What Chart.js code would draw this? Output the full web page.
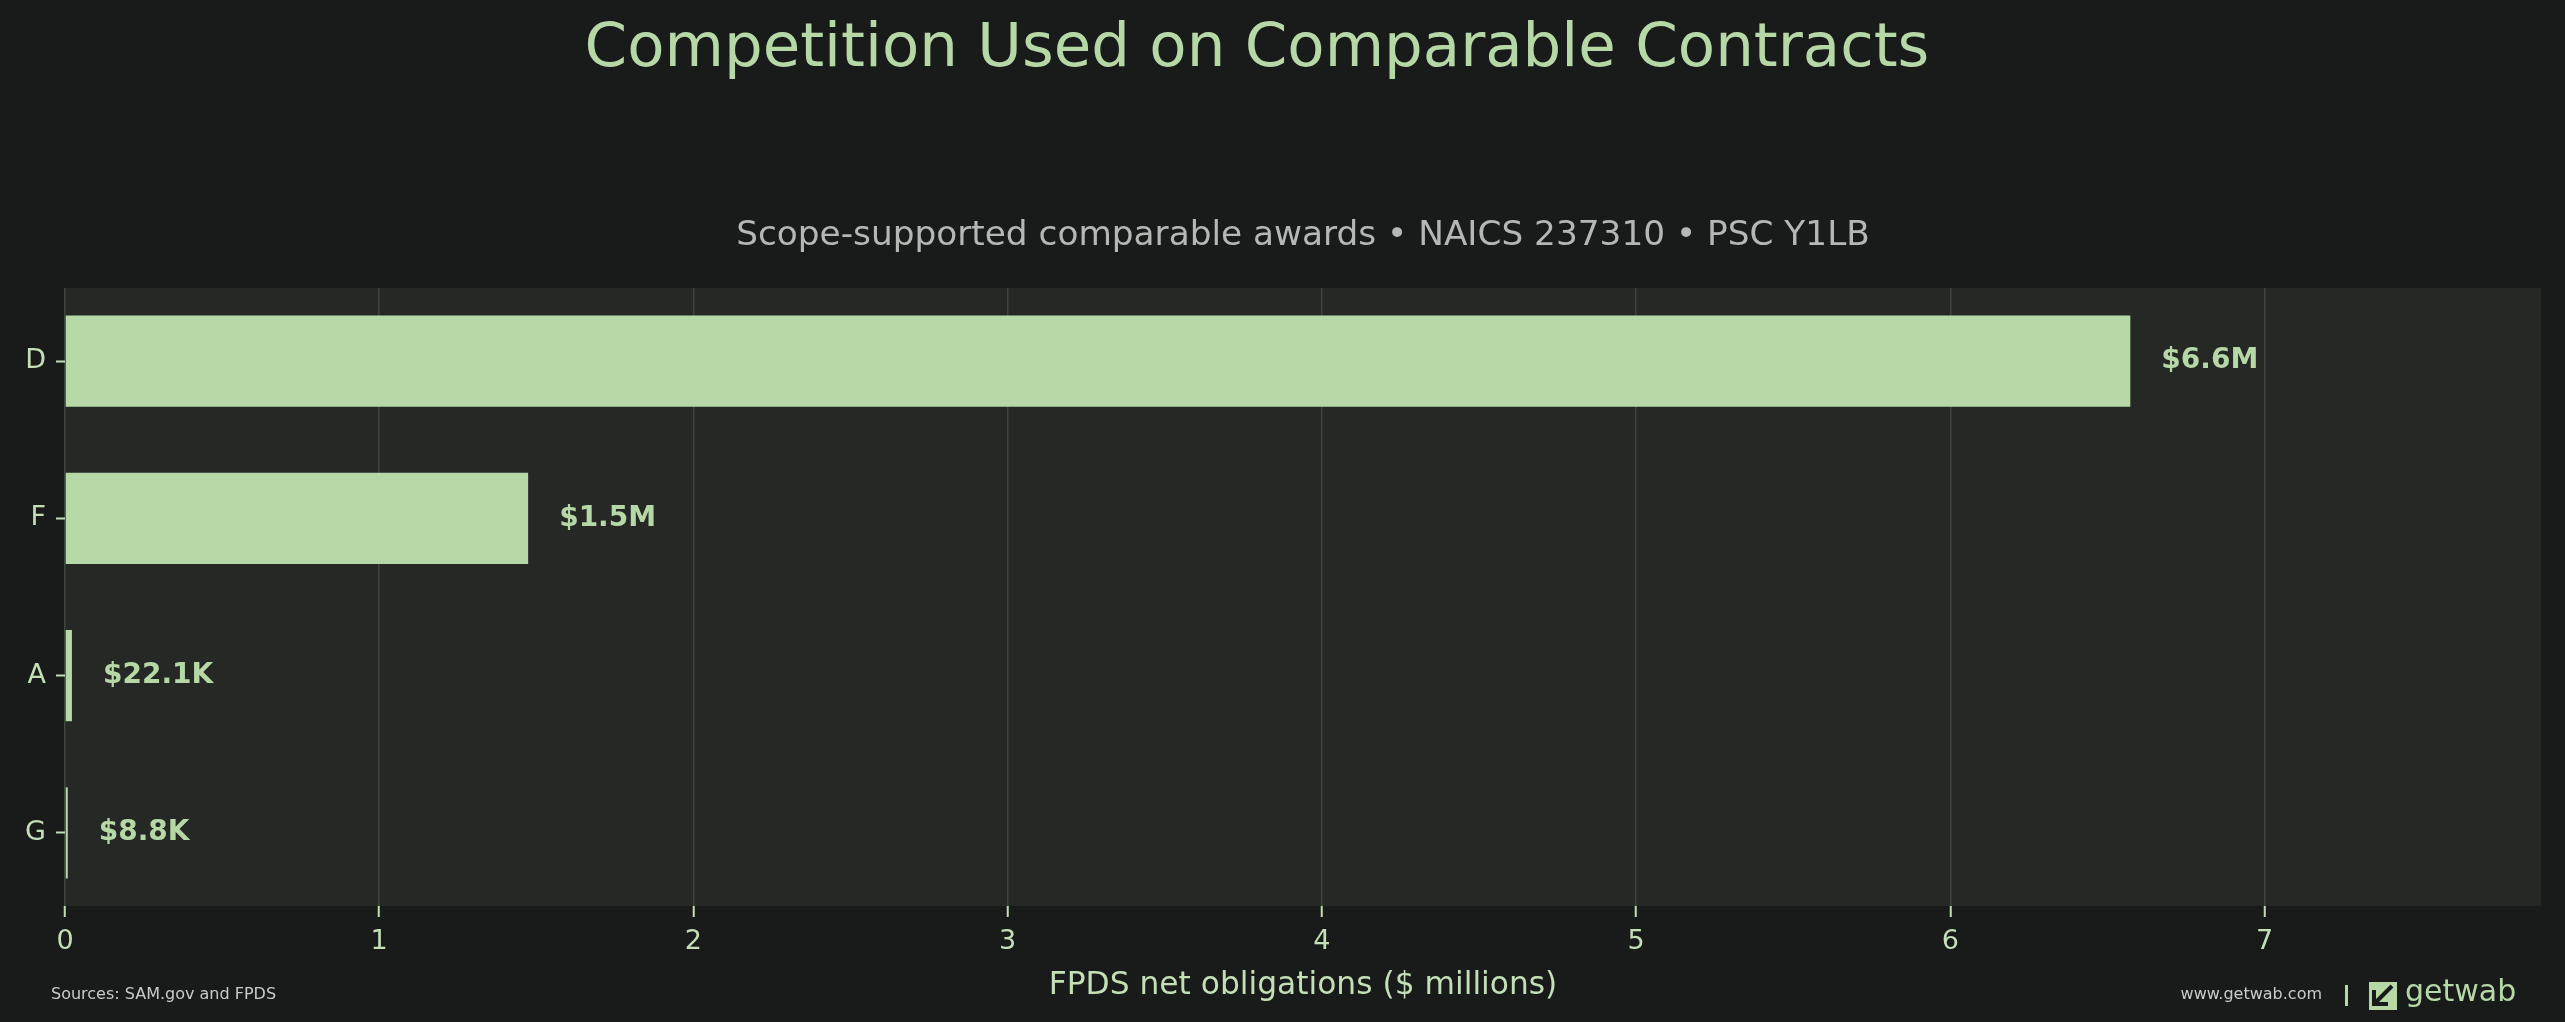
<!DOCTYPE html>
<html>
<head>
<meta charset="utf-8">
<script src="https://cdn.jsdelivr.net/npm/chart.js@4.4.1/dist/chart.umd.min.js"></script>
<style>
  html, body { margin: 0; padding: 0; background: #191b1a; }
  #wrap { width: 2565px; height: 1022px; }
</style>
</head>
<body>
<div id="wrap"><canvas id="chart" width="2565" height="1022"></canvas></div>
<script>
// Data
const categories = ['D', 'F', 'A', 'G'];
const obligations = [6.573, 1.474, 0.0221, 0.0088]; // $ millions
const valueLabels = ['$6.6M', '$1.5M', '$22.1K', '$8.8K'];
const xTicks = [0, 1, 2, 3, 4, 5, 6, 7];
const xMax = 7.88;

const GREEN = '#b5d8a6';
const TICK_TEXT = '#c3dfb6';
const FONT = '"DejaVu Sans", sans-serif';

const decorations = {
  id: 'decorations',
  beforeDraw(chart) {
    const { ctx, chartArea: a } = chart;
    ctx.save();
    ctx.fillStyle = '#191b1a';
    ctx.fillRect(0, 0, chart.width, chart.height);
    ctx.fillStyle = '#262826';
    ctx.fillRect(a.left, a.top, a.right - a.left, a.bottom - a.top);
    ctx.restore();
  },
  afterDraw(chart) {
    const { ctx, chartArea: a } = chart;
    const mid = (a.left + a.right) / 2;
    ctx.save();
    ctx.textBaseline = 'middle';

    // titles
    ctx.textAlign = 'center';
    ctx.fillStyle = GREEN;
    ctx.font = '61px ' + FONT;
    ctx.fillText('Competition Used on Comparable Contracts', 1257, 50);
    ctx.fillStyle = '#b4b8b4';
    ctx.font = '34.3px ' + FONT;
    ctx.fillText('Scope-supported comparable awards \u2022 NAICS 237310 \u2022 PSC Y1LB', mid, 236);

    // axis title
    ctx.fillStyle = TICK_TEXT;
    ctx.font = '31.3px ' + FONT;
    ctx.fillText('FPDS net obligations ($ millions)', mid, 986);

    // value labels
    const meta = chart.getDatasetMeta(0);
    ctx.textAlign = 'left';
    ctx.fillStyle = GREEN;
    ctx.font = 'bold 28px ' + FONT;
    meta.data.forEach((bar, i) => {
      ctx.fillText(valueLabels[i], bar.x + 31, bar.y);
    });

    // footer
    ctx.fillStyle = '#c8ccc8';
    ctx.font = '16px ' + FONT;
    ctx.fillText('Sources: SAM.gov and FPDS', 51, 995);
    ctx.textAlign = 'right';
    ctx.fillText('www.getwab.com', 2322, 995);
    ctx.fillStyle = GREEN;
    ctx.fillRect(2345, 985, 3, 21);
    // logo mark
    ctx.fillRect(2369, 982, 28, 28);
    ctx.strokeStyle = '#191b1a';
    ctx.lineWidth = 4;
    ctx.beginPath();
    ctx.moveTo(2374, 1004);
    ctx.lineTo(2392, 986);
    ctx.moveTo(2374, 990);
    ctx.lineTo(2374, 1004);
    ctx.lineTo(2388, 1004);
    ctx.stroke();
    ctx.textAlign = 'left';
    ctx.font = '30px ' + FONT;
    ctx.fillText('getwab', 2405, 993);
    ctx.restore();
  }
};

new Chart(document.getElementById('chart'), {
  type: 'bar',
  data: {
    datasets: [{
      data: obligations.map((v, i) => ({ x: v, y: i })),
      backgroundColor: GREEN,
      borderWidth: 0,
      barPercentage: 0.58,
      categoryPercentage: 1.0
    }]
  },
  options: {
    indexAxis: 'y',
    responsive: false,
    animation: false,
    devicePixelRatio: 1,
    layout: { padding: { top: 288, right: 24, left: 0, bottom: 0 } },
    plugins: {
      legend: { display: false },
      tooltip: { enabled: false }
    },
    scales: {
      x: {
        type: 'linear',
        min: 0,
        max: xMax,
        afterBuildTicks(scale) { scale.ticks = xTicks.map(v => ({ value: v })); },
        afterFit(scale) { scale.height = 116; },
        border: { display: false },
        grid: { color: '#3d453f', lineWidth: 1.5, tickColor: TICK_TEXT, tickLength: 11, tickWidth: 2 },
        ticks: { color: TICK_TEXT, font: { family: FONT, size: 27 }, padding: 9 }
      },
      y: {
        type: 'linear',
        reverse: true,
        offset: false,
        min: -0.465,
        max: categories.length - 1 + 0.465,
        afterBuildTicks(scale) { scale.ticks = categories.map((c, i) => ({ value: i })); },
        ticks: {
          color: TICK_TEXT,
          font: { family: FONT, size: 27 },
          padding: 10,
          callback: (v) => categories[v]
        },
        afterFit(scale) { scale.width = 65; },
        border: { display: false },
        grid: { offset: false, drawOnChartArea: false, tickColor: TICK_TEXT, tickLength: 9, tickWidth: 2 }
      }
    }
  },
  plugins: [decorations]
});
</script>
</body>
</html>
